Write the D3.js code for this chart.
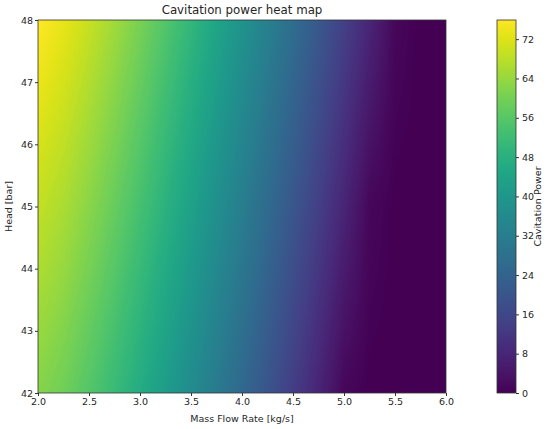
<!DOCTYPE html>
<html>
<head>
<meta charset="utf-8">
<script src="https://cdn.jsdelivr.net/npm/d3@7"></script>
<style>
  body { margin: 0; background: #fff; }
  text { font-family: "DejaVu Sans", sans-serif; fill: #262626; }
</style>
</head>
<body>
<script>
// mass flow rate grid (kg/s) and head grid (bar)
var massFlow = [2.0, 2.25, 2.5, 2.75, 3.0, 3.25, 3.5, 3.75, 4.0, 4.25, 4.5, 4.75, 5.0, 5.25, 5.5, 5.75, 6.0];
var heads = [42, 43, 44, 45, 46, 47, 48];
// cavitation power, one row per head value
var power = [
  [62.0, 59.3, 55.5, 51.3, 46.6, 41.7, 36.5, 31.0, 25.4, 19.6, 13.6, 7.5, 1.2, 0, 0, 0, 0],
  [64.3, 61.6, 57.8, 53.6, 48.9, 44.0, 38.7, 33.3, 27.6, 21.8, 15.8, 9.7, 3.4, 0.4, 0, 0, 0],
  [66.7, 64.0, 60.2, 55.9, 51.2, 46.2, 41.0, 35.5, 29.9, 24.0, 18.0, 11.9, 5.5, 0.9, 0, 0, 0],
  [69.0, 66.3, 62.5, 58.2, 53.5, 48.5, 43.2, 37.8, 32.1, 26.2, 20.2, 14.1, 7.7, 1.3, 0, 0, 0],
  [71.3, 68.6, 64.8, 60.5, 55.8, 50.8, 45.5, 40.0, 34.4, 28.5, 22.5, 16.3, 9.9, 3.5, 0.4, 0, 0],
  [73.7, 70.9, 67.1, 62.8, 58.1, 53.1, 47.8, 42.3, 36.6, 30.7, 24.7, 18.6, 12.2, 5.7, 0.9, 0, 0],
  [76.0, 73.2, 69.4, 65.1, 60.4, 55.4, 50.1, 44.6, 38.9, 33.0, 27.0, 20.8, 14.4, 7.9, 1.3, 0, 0]
];
var xTicks = [2.0, 2.5, 3.0, 3.5, 4.0, 4.5, 5.0, 5.5, 6.0];
var yTicks = [42, 43, 44, 45, 46, 47, 48];
var cTicks = [0, 8, 16, 24, 32, 40, 48, 56, 64, 72];
var cMax = 75.9;

var W = 550, H = 429;
var plot = {left: 38, right: 446, top: 20, bottom: 393};
var cbar = {left: 497, right: 516};

var svg = d3.select("body").append("svg").attr("width", W).attr("height", H);

var x = d3.scaleLinear().domain([2, 6]).range([plot.left, plot.right]);
var y = d3.scaleLinear().domain([42, 48]).range([plot.bottom, plot.top]);
var color = d3.scaleSequential(d3.interpolateViridis).domain([0, cMax]);

// bilinear shading of the grid
function valueAt(m, h) {
  var i = d3.bisectRight(massFlow, m) - 1;
  i = Math.max(0, Math.min(massFlow.length - 2, i));
  var j = d3.bisectRight(heads, h) - 1;
  j = Math.max(0, Math.min(heads.length - 2, j));
  var tx = (m - massFlow[i]) / (massFlow[i + 1] - massFlow[i]);
  var ty = (h - heads[j]) / (heads[j + 1] - heads[j]);
  var a = power[j][i] * (1 - tx) + power[j][i + 1] * tx;
  var b = power[j + 1][i] * (1 - tx) + power[j + 1][i + 1] * tx;
  return a * (1 - ty) + b * ty;
}

var pw = plot.right - plot.left, ph = plot.bottom - plot.top;
var canvas = document.createElement("canvas");
canvas.width = pw; canvas.height = ph;
var ctx = canvas.getContext("2d");
var img = ctx.createImageData(pw, ph);
for (var py = 0; py < ph; py++) {
  var h = y.invert(plot.top + py + 0.5);
  for (var px = 0; px < pw; px++) {
    var m = x.invert(plot.left + px + 0.5);
    var c = d3.rgb(color(valueAt(m, h)));
    var k = (py * pw + px) * 4;
    img.data[k] = c.r; img.data[k + 1] = c.g; img.data[k + 2] = c.b; img.data[k + 3] = 255;
  }
}
ctx.putImageData(img, 0, 0);

svg.append("image")
  .attr("x", plot.left).attr("y", plot.top)
  .attr("width", pw).attr("height", ph)
  .attr("href", canvas.toDataURL());

svg.append("rect")
  .attr("x", plot.left).attr("y", plot.top).attr("width", pw).attr("height", ph)
  .attr("fill", "none").attr("stroke", "#333").attr("stroke-width", 0.8);

var xAxis = svg.append("g")
  .attr("transform", "translate(0," + plot.bottom + ")")
  .call(d3.axisBottom(x).tickValues(xTicks).tickFormat(d3.format(".1f")).tickSize(3).tickPadding(2));
var yAxis = svg.append("g")
  .attr("transform", "translate(" + plot.left + ",0)")
  .call(d3.axisLeft(y).tickValues(yTicks).tickFormat(d3.format("d")).tickSize(3).tickPadding(2));
[xAxis, yAxis].forEach(function(g) {
  g.select(".domain").remove();
  g.selectAll("text").attr("font-size", 9.5).attr("font-family", "DejaVu Sans").attr("fill", "#262626");
  g.selectAll("line").attr("stroke", "#333");
});

svg.append("text")
  .attr("x", (plot.left + plot.right) / 2).attr("y", 14)
  .attr("text-anchor", "middle").attr("font-size", 11.8)
  .text("Cavitation power heat map");

svg.append("text")
  .attr("x", (plot.left + plot.right) / 2).attr("y", 422)
  .attr("text-anchor", "middle").attr("font-size", 9.5)
  .text("Mass Flow Rate [kg/s]");

svg.append("text")
  .attr("transform", "translate(12," + (plot.top + plot.bottom) / 2 + ") rotate(-90)")
  .attr("text-anchor", "middle").attr("font-size", 9.5)
  .text("Head [bar]");

// colorbar
var cy = d3.scaleLinear().domain([0, cMax]).range([plot.bottom, plot.top]);
var grad = svg.append("defs").append("linearGradient")
  .attr("id", "cbgrad").attr("x1", 0).attr("y1", 1).attr("x2", 0).attr("y2", 0);
d3.range(0, 1.0001, 0.02).forEach(function(t) {
  grad.append("stop").attr("offset", t).attr("stop-color", color(t * cMax));
});
svg.append("rect")
  .attr("x", cbar.left).attr("y", plot.top)
  .attr("width", cbar.right - cbar.left).attr("height", ph)
  .attr("fill", "url(#cbgrad)").attr("stroke", "#333").attr("stroke-width", 0.8);

var cAxis = svg.append("g")
  .attr("transform", "translate(" + cbar.right + ",0)")
  .call(d3.axisRight(cy).tickValues(cTicks).tickSize(3).tickPadding(3));
cAxis.select(".domain").remove();
cAxis.selectAll("text").attr("font-size", 9.5).attr("font-family", "DejaVu Sans").attr("fill", "#262626");
cAxis.selectAll("line").attr("stroke", "#333");

svg.append("text")
  .attr("transform", "translate(541," + (plot.top + plot.bottom) / 2 + ") rotate(-90)")
  .attr("text-anchor", "middle").attr("font-size", 9.5)
  .text("Cavitation Power");
</script>
</body>
</html>
